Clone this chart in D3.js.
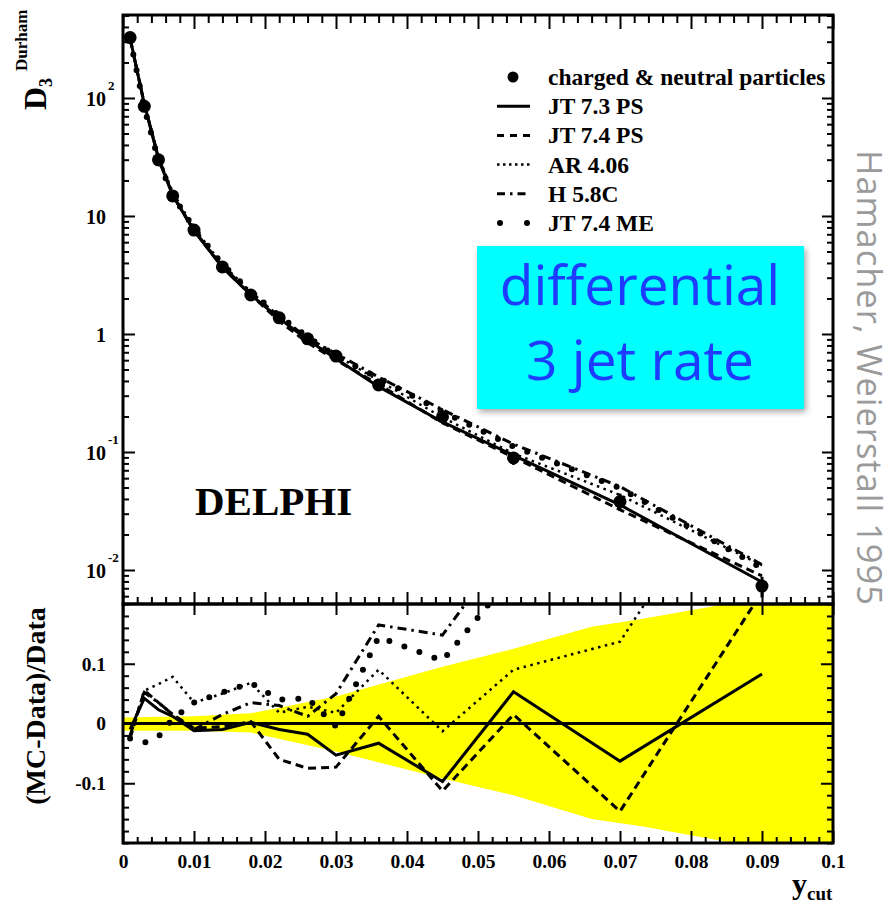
<!DOCTYPE html>
<html>
<head>
<meta charset="utf-8">
<script src="https://cdn.jsdelivr.net/npm/d3@7"></script>
<style>
  body { margin: 0; background: #fff; }
  svg text { font-family: "Liberation Serif", "Times New Roman", serif; font-weight: bold; }
</style>
</head>
<body>
<div id="chart"></div>
<script>
// y_cut bin centres
const ycut = [0.001, 0.003, 0.005, 0.007, 0.010, 0.014, 0.018, 0.022, 0.026, 0.030, 0.036, 0.045, 0.055, 0.070, 0.090];

// DELPHI data, D3 Durham (charged & neutral particles)
const dataD3 = [325, 85, 29.9, 14.8, 7.6, 3.7, 2.14, 1.37, 0.91, 0.65, 0.37, 0.199, 0.089, 0.038, 0.0073];
const dataErr = [0.010, 0.010, 0.011, 0.012, 0.012, 0.014, 0.017, 0.025, 0.035, 0.045, 0.065, 0.095, 0.125, 0.170, 0.200];

// (MC-Data)/Data for each generator
const ratioJT73PS = [-0.010, 0.042, 0.023, 0.012, -0.012, -0.010, 0.002, -0.010, -0.018, -0.053, -0.033, -0.097, 0.053, -0.063, 0.083];
const ratioJT74PS = [-0.025, 0.055, 0.035, 0.015, -0.008, -0.005, 0.003, -0.060, -0.075, -0.073, 0.012, -0.113, 0.015, -0.147, 0.220];
const ratioAR406  = [-0.020, 0.055, 0.066, 0.078, 0.035, 0.050, 0.068, 0.018, 0.028, 0.018, 0.090, -0.013, 0.090, 0.137, 0.500];
const ratioH58C   = [-0.020, 0.052, 0.035, 0.015, -0.010, 0.015, 0.035, 0.030, 0.012, 0.050, 0.165, 0.148, 0.310, 0.340, 0.520];
const ratioJT74ME = [-0.025, -0.032, -0.022, 0.008, 0.035, 0.052, 0.068, 0.040, 0.042, -0.005, 0.145, 0.105, 0.250, 0.300, 0.420];

// experimental error band (bottom panel)
const bandX  = [0, 0.010, 0.018, 0.030, 0.045, 0.055, 0.066, 0.073, 0.085, 0.100];
const bandHi = [0.010, 0.012, 0.017, 0.045, 0.095, 0.125, 0.162, 0.175, 0.200, 0.220];
const bandLo = [-0.012, -0.012, -0.015, -0.047, -0.092, -0.120, -0.160, -0.172, -0.198, -0.220];

// tick labels
const xTicks = [0, 0.01, 0.02, 0.03, 0.04, 0.05, 0.06, 0.07, 0.08, 0.09, 0.1];
const xTickLabels = ["0", "0.01", "0.02", "0.03", "0.04", "0.05", "0.06", "0.07", "0.08", "0.09", "0.1"];
const yTopTicks = [0.01, 0.1, 1, 10, 100];
const yTopLabels = [["10", "-2"], ["10", "-1"], ["1", ""], ["10", ""], ["10", "2"]];
const yBotTicks = [-0.1, 0, 0.1];
const yBotLabels = ["-0.1", "0", "0.1"];

const legendLabels = ["charged & neutral particles", "JT 7.3 PS", "JT 7.4 PS", "AR 4.06", "H 5.8C", "JT 7.4 ME"];

// ---- layout ----
const W = 894, H = 903;
const L = 123, R = 833, T = 15, M = 604, B = 843;

const svg = d3.select("#chart").append("svg")
    .attr("width", W)
    .attr("height", H);

const x = d3.scaleLinear().domain([0, 0.1]).range([L, R]);
const yTop = d3.scaleLog().domain([0.00515, 505]).range([M, T]);
const yBot = d3.scaleLinear().domain([-0.2, 0.2]).range([B, M]);

const defs = svg.append("defs");
defs.append("clipPath").attr("id", "clipTop")
    .append("rect").attr("x", L).attr("y", T).attr("width", R - L).attr("height", M - T);
defs.append("clipPath").attr("id", "clipBot")
    .append("rect").attr("x", L).attr("y", M).attr("width", R - L).attr("height", B - M);
const shadow = defs.append("filter").attr("id", "shadow")
    .attr("x", "-10%").attr("y", "-10%").attr("width", "125%").attr("height", "130%");
shadow.append("feDropShadow")
    .attr("dx", 2).attr("dy", 3).attr("stdDeviation", 3)
    .attr("flood-color", "#000").attr("flood-opacity", 0.35);

// line styles
const series = [
    { name: "JT 7.3 PS", ratio: ratioJT73PS, dash: null,        legDash: null,        w: 3,   cap: "butt" },
    { name: "JT 7.4 PS", ratio: ratioJT74PS, dash: "8,5",       legDash: "7,6",       w: 3,   cap: "butt" },
    { name: "AR 4.06",   ratio: ratioAR406,  dash: "2.5,4.5",   legDash: "2.5,3.5",   w: 2.5, cap: "butt" },
    { name: "H 5.8C",    ratio: ratioH58C,   dash: "9,5,2.5,5", legDash: "8,5,2.5,5", w: 3,   cap: "butt" },
    { name: "JT 7.4 ME", ratio: ratioJT74ME, dash: "0,16",      legDash: null,        w: 6,   cap: "round" }
];

// ---- bottom panel: band + zero line ----
const bandData = bandX.map((d, i) => ({ x: d, hi: bandHi[i], lo: bandLo[i] }));
const gBot = svg.append("g").attr("clip-path", "url(#clipBot)");
gBot.append("path")
    .datum(bandData)
    .attr("fill", "#ffff00")
    .attr("d", d3.area().x(d => x(d.x)).y0(d => yBot(d.lo)).y1(d => yBot(d.hi)));

gBot.append("line")
    .attr("x1", L).attr("x2", R)
    .attr("y1", yBot(0)).attr("y2", yBot(0))
    .attr("stroke", "#000").attr("stroke-width", 3);

const lineBot = d3.line().x(d => x(d.x)).y(d => yBot(d.r));
series.forEach(s => {
    gBot.append("path")
        .datum(ycut.map((c, i) => ({ x: c, r: s.ratio[i] })))
        .attr("fill", "none")
        .attr("stroke", "#000")
        .attr("stroke-width", s.w)
        .attr("stroke-linecap", s.cap)
        .attr("stroke-dasharray", s.dash)
        .attr("d", lineBot);
});

// ---- top panel: MC curves + data ----
const gTop = svg.append("g").attr("clip-path", "url(#clipTop)");
const lineTop = d3.line().x(d => x(d.x)).y(d => yTop(d.v));
series.forEach(s => {
    gTop.append("path")
        .datum(ycut.map((c, i) => ({ x: c, v: dataD3[i] * (1 + s.ratio[i]) })))
        .attr("fill", "none")
        .attr("stroke", "#000")
        .attr("stroke-width", s.w)
        .attr("stroke-linecap", s.cap)
        .attr("stroke-dasharray", s.dash)
        .attr("d", lineTop);
});

const pts = ycut.map((c, i) => ({ x: c, v: dataD3[i], e: dataErr[i] }));
gTop.selectAll(".err")
    .data(pts)
    .enter()
    .append("line")
    .attr("class", "err")
    .attr("x1", d => x(d.x)).attr("x2", d => x(d.x))
    .attr("y1", d => yTop(d.v * (1 + d.e)))
    .attr("y2", d => yTop(d.v * (1 - d.e)))
    .attr("stroke", "#000").attr("stroke-width", 3);
gTop.selectAll(".pt")
    .data(pts)
    .enter()
    .append("circle")
    .attr("class", "pt")
    .attr("cx", d => x(d.x))
    .attr("cy", d => yTop(d.v))
    .attr("r", 6.5)
    .attr("fill", "#000");

// ---- frames ----
[[T, M], [M, B]].forEach(([y0, y1]) => {
    svg.append("rect")
        .attr("x", L).attr("y", y0)
        .attr("width", R - L).attr("height", y1 - y0)
        .attr("fill", "none").attr("stroke", "#000").attr("stroke-width", 3);
});

// ---- ticks ----
const xMinor = x.ticks(50).filter(v => Math.abs(v * 100 - Math.round(v * 100)) > 1e-6);

function xTickRow(y, values, len, up) {
    svg.append("g")
        .attr("transform", `translate(0,${y})`)
        .call((up ? d3.axisTop(x) : d3.axisBottom(x)).tickValues(values).tickSize(len).tickFormat(""))
        .call(g => g.select(".domain").remove())
        .selectAll("line").attr("stroke-width", 2);
}
function yTickCol(scale, xpos, values, len, right) {
    svg.append("g")
        .attr("transform", `translate(${xpos},0)`)
        .call((right ? d3.axisRight(scale) : d3.axisLeft(scale)).tickValues(values).tickSize(len).tickFormat(""))
        .call(g => g.select(".domain").remove())
        .selectAll("line").attr("stroke-width", 2);
}

// top panel x ticks
xTickRow(T, xTicks, 14, false);
xTickRow(T, xMinor, 8, false);
xTickRow(M, xTicks, 12, true);
xTickRow(M, xMinor, 7, true);
// bottom panel x ticks
xTickRow(M, xTicks, 11, false);
xTickRow(B, xTicks, 12, true);
xTickRow(B, xMinor, 6, true);

// top panel y ticks (log)
const yTopMinor = yTop.ticks().filter(v => !yTopTicks.includes(v));
yTickCol(yTop, L, yTopTicks, 12, true);
yTickCol(yTop, L, yTopMinor, 6, true);
yTickCol(yTop, R, yTopTicks, 11, false);
yTickCol(yTop, R, yTopMinor, 6, false);

// bottom panel y ticks
const yBotMinor = yBot.ticks(20).filter(v => !yBotTicks.some(t => Math.abs(t - v) < 1e-9));
yTickCol(yBot, L, yBotTicks, 12, true);
yTickCol(yBot, L, yBotMinor, 6, true);
yTickCol(yBot, R, yBotTicks, 12, false);
yTickCol(yBot, R, yBotMinor, 6, false);

// ---- tick labels ----
svg.append("g")
    .attr("transform", `translate(0,${B})`)
    .call(d3.axisBottom(x).tickValues(xTicks).tickFormat((d, i) => xTickLabels[i]).tickSize(0).tickPadding(11))
    .call(g => g.select(".domain").remove())
    .attr("font-family", null)
    .attr("font-size", 19.5);

svg.append("g")
    .attr("transform", `translate(${L},0)`)
    .call(d3.axisLeft(yBot).tickValues(yBotTicks).tickFormat((d, i) => yBotLabels[i]).tickSize(0).tickPadding(17))
    .call(g => g.select(".domain").remove())
    .attr("font-family", null)
    .attr("font-size", 19.5);

const yLab = svg.append("g");
yTopTicks.forEach((v, i) => {
    const yy = yTop(v);
    yLab.append("text")
        .attr("x", L - 17).attr("y", yy + 8)
        .attr("text-anchor", "end")
        .attr("font-size", 20)
        .text(yTopLabels[i][0]);
    if (yTopLabels[i][1]) {
        yLab.append("text")
            .attr("x", L - 15).attr("y", yy - 8)
            .attr("font-size", 13)
            .text(yTopLabels[i][1]);
    }
});

// ---- axis titles ----
const yTitle = svg.append("g").attr("transform", "translate(46,110) rotate(-90)");
yTitle.append("text").attr("x", 0).attr("y", 0).attr("font-size", 32).text("D");
yTitle.append("text").attr("x", 23).attr("y", 6).attr("font-size", 18).text("3");
yTitle.append("text").attr("x", 39).attr("y", -19).attr("font-size", 17).text("Durham");

svg.append("text")
    .attr("transform", "translate(45,706) rotate(-90)")
    .attr("text-anchor", "middle")
    .attr("font-size", 28)
    .text("(MC-Data)/Data");

svg.append("text").attr("x", 792).attr("y", 894).attr("font-size", 30).text("y");
svg.append("text").attr("x", 807).attr("y", 900).attr("font-size", 19).text("cut");

svg.append("text")
    .attr("x", 195).attr("y", 515)
    .attr("font-size", 41)
    .text("DELPHI");

// ---- legend ----
const leg = svg.append("g");
const rowY = i => 77 + i * 29.2;
leg.append("circle").attr("cx", 513).attr("cy", rowY(0)).attr("r", 5.5).attr("fill", "#000");
series.forEach((s, i) => {
    const y0 = rowY(i + 1);
    if (s.cap === "round") {
        // widely spaced dots
        leg.selectAll(".leg-dot")
            .data([500, 527])
            .enter()
            .append("circle")
            .attr("class", "leg-dot")
            .attr("cx", d => d).attr("cy", y0)
            .attr("r", s.w / 2)
            .attr("fill", "#000");
        return;
    }
    leg.append("line")
        .attr("x1", 497).attr("x2", 530)
        .attr("y1", y0).attr("y2", y0)
        .attr("stroke", "#000")
        .attr("stroke-width", s.w)
        .attr("stroke-dasharray", s.legDash);
});
leg.selectAll(".leg-label")
    .data(legendLabels)
    .enter()
    .append("text")
    .attr("class", "leg-label")
    .attr("x", 548)
    .attr("y", (d, i) => rowY(i) + 8)
    .attr("font-size", 23.5)
    .text(d => d);

// ---- annotation box ----
svg.append("rect")
    .attr("x", 477).attr("y", 246)
    .attr("width", 327).attr("height", 163)
    .attr("fill", "#00ffff")
    .attr("filter", "url(#shadow)");
svg.selectAll(".box-text")
    .data(["differential", "3 jet rate"])
    .enter()
    .append("text")
    .attr("class", "box-text")
    .attr("x", 640)
    .attr("y", (d, i) => 305 + i * 75)
    .attr("text-anchor", "middle")
    .style("font-family", "'Open Sans', sans-serif")
    .style("font-weight", "normal")
    .attr("font-size", 55)
    .attr("fill", "#1e3cff")
    .text(d => d);

// ---- side credit ----
svg.append("text")
    .attr("transform", "translate(857,150) rotate(90)")
    .style("font-family", "'Open Sans', sans-serif")
    .style("font-weight", "normal")
    .attr("font-size", 34.5)
    .attr("fill", "#9a9a9a")
    .attr("textLength", 455)
    .text("Hamacher, Weierstall 1995");
</script>
</body>
</html>
